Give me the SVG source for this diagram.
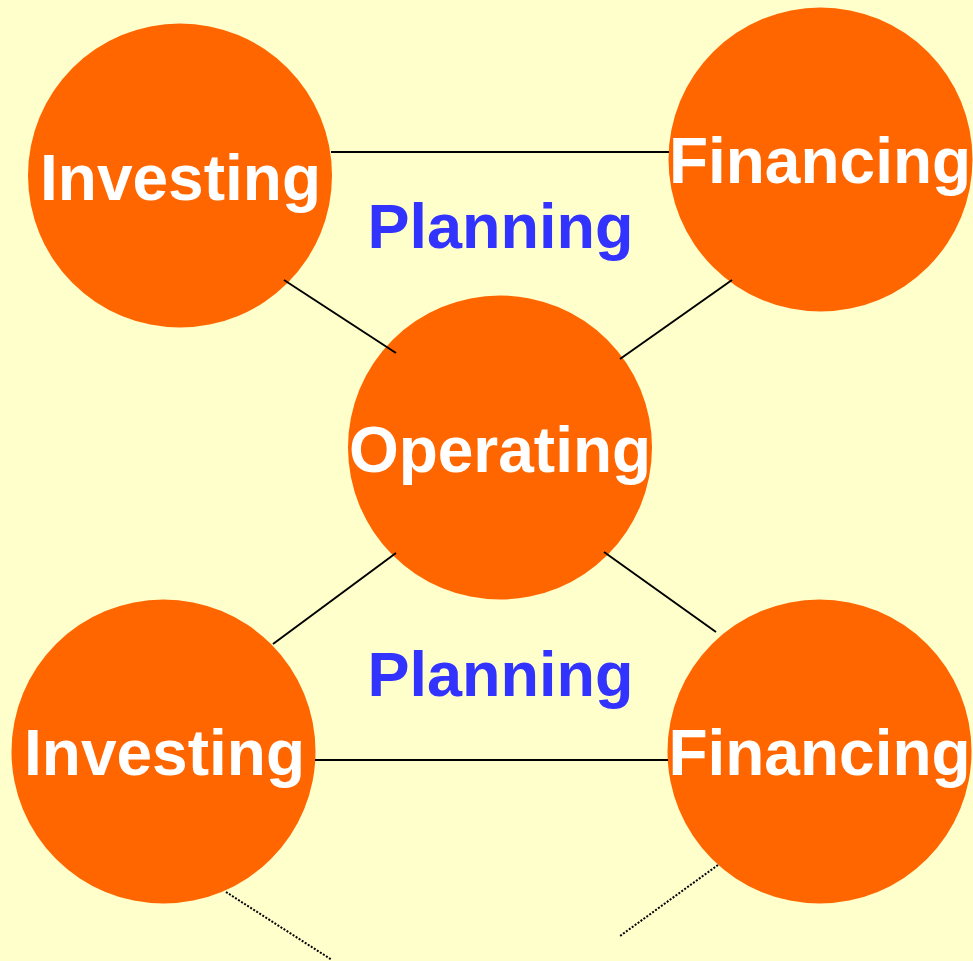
<svg xmlns="http://www.w3.org/2000/svg" width="973" height="961" viewBox="0 0 973 961">
  <style>
    .node { fill: #FF6600; }
    .label { fill: #FFFFFF; font-family: "Liberation Sans", Arial, sans-serif; font-weight: bold; font-size: 64px; text-anchor: middle; }
    .plan { fill: #3333FF; font-family: "Liberation Sans", Arial, sans-serif; font-weight: bold; font-size: 63px; text-anchor: middle; }
    .link { stroke: #000000; stroke-width: 2; fill: none; }
    .dot { stroke: #000000; stroke-width: 2; stroke-dasharray: 2 1.6; fill: none; }
  </style>
  <rect x="0" y="0" width="973" height="961" fill="#FFFFCC"/>

  <g id="investing-top">
    <circle class="node" cx="180" cy="175.5" r="152"/>
    <text class="label" x="180.5" y="200">Investing</text>
  </g>
  <g id="financing-top">
    <circle class="node" cx="820.5" cy="159.5" r="152"/>
    <text class="label" x="820" y="183">Financing</text>
  </g>
  <g id="operating">
    <circle class="node" cx="500" cy="447.5" r="152"/>
    <text class="label" x="500" y="472">Operating</text>
  </g>
  <g id="investing-bottom">
    <circle class="node" cx="163.5" cy="751.5" r="152"/>
    <text class="label" x="164.5" y="775">Investing</text>
  </g>
  <g id="financing-bottom">
    <circle class="node" cx="819.5" cy="751.5" r="152"/>
    <text class="label" x="819.5" y="775">Financing</text>
  </g>

  <g id="planning-top">
    <text class="plan" x="500.5" y="248">Planning</text>
  </g>
  <g id="planning-bottom">
    <text class="plan" x="500.5" y="696">Planning</text>
  </g>

  <!-- connectors, drawn over the circle edges -->
  <g id="connectors">
    <line class="link" x1="331" y1="152" x2="669" y2="152"/>
    <line class="link" x1="284" y1="280" x2="396" y2="353"/>
    <line class="link" x1="732" y1="280" x2="620" y2="359"/>
    <line class="link" x1="396" y1="553" x2="273" y2="644"/>
    <line class="link" x1="604" y1="552" x2="716" y2="632"/>
    <line class="link" x1="315" y1="760" x2="668" y2="760"/>
    <line class="dot" x1="226" y1="892" x2="332" y2="960"/>
    <line class="dot" x1="718" y1="865" x2="620" y2="936"/>
  </g>
</svg>
